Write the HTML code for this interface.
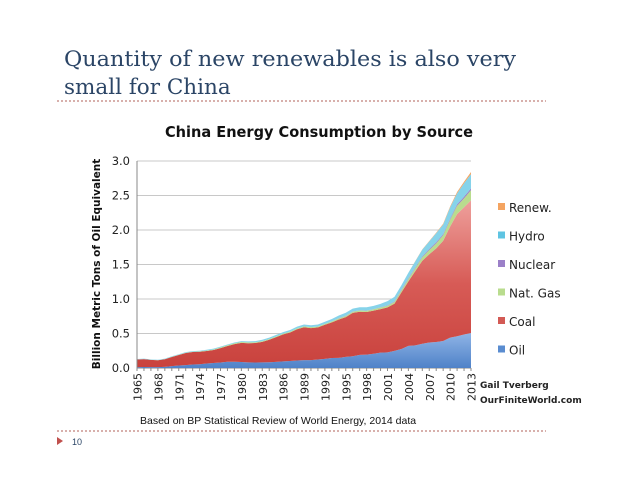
<!DOCTYPE html>
<html><head><meta charset="utf-8"><style>
body{margin:0;background:#fff;}
svg{display:block;}
</style></head><body>
<svg width="638" height="493" xmlns="http://www.w3.org/2000/svg">
<defs>
<linearGradient id="gOil" x1="0" y1="0" x2="0" y2="1"><stop offset="0" stop-color="#8fb4e6"/><stop offset="1" stop-color="#4f82c8"/></linearGradient>
<linearGradient id="gCoal" x1="0" y1="0" x2="0" y2="1"><stop offset="0" stop-color="#eea09c"/><stop offset="0.5" stop-color="#d75b56"/><stop offset="1" stop-color="#c9423d"/></linearGradient>
</defs>
<text x="64" y="66" font-family="DejaVu Serif, serif" font-size="21" fill="#2b4566" textLength="452" lengthAdjust="spacingAndGlyphs">Quantity of new renewables is also very</text>
<text x="64" y="94" font-family="DejaVu Serif, serif" font-size="21.5" fill="#2b4566">small for China</text>
<line x1="57" y1="101" x2="546" y2="101" stroke="#b0605a" stroke-width="1" stroke-dasharray="2,2"/>
<line x1="57" y1="431" x2="546" y2="431" stroke="#b0605a" stroke-width="1" stroke-dasharray="2,2"/>
<polygon points="57,437 63,441 57,445" fill="#c0504d"/>
<text x="72" y="445" font-family="Liberation Sans, sans-serif" font-size="9" fill="#2b4566">10</text>
<text x="319" y="137" text-anchor="middle" font-family="DejaVu Sans, sans-serif" font-weight="bold" font-size="15" fill="#111" textLength="308" lengthAdjust="spacingAndGlyphs">China Energy Consumption by Source</text>
<text transform="translate(100,264) rotate(-90)" text-anchor="middle" font-family="DejaVu Sans, sans-serif" font-weight="bold" font-size="10.5" fill="#111">Billion Metric Tons of Oil Equivalent</text>
<g id="grid"></g>
<g id="areas"></g>
<g id="axes"></g>
<g id="legend"></g>
<text x="480" y="388" font-family="DejaVu Sans, sans-serif" font-weight="bold" font-size="9" fill="#222">Gail Tverberg</text>
<text x="480" y="403" font-family="DejaVu Sans, sans-serif" font-weight="bold" font-size="9" fill="#222">OurFiniteWorld.com</text>
<text x="140" y="424" font-family="Liberation Sans, sans-serif" font-size="10.5" fill="#111">Based on BP Statistical Review of World Energy, 2014 data</text>
</svg>
<script>
const years = Array.from({length:49},(_,i)=>1965+i);
const oil = [0.011,0.014,0.013,0.013,0.017,0.028,0.036,0.041,0.050,0.054,0.065,0.072,0.080,0.091,0.091,0.087,0.082,0.080,0.081,0.084,0.089,0.096,0.102,0.108,0.115,0.114,0.123,0.133,0.145,0.147,0.161,0.171,0.190,0.193,0.206,0.223,0.227,0.248,0.275,0.320,0.328,0.351,0.370,0.377,0.392,0.440,0.461,0.486,0.507];
const coal = [0.113,0.114,0.105,0.100,0.110,0.132,0.153,0.176,0.181,0.181,0.181,0.188,0.208,0.227,0.255,0.277,0.277,0.282,0.298,0.325,0.358,0.391,0.412,0.454,0.475,0.464,0.465,0.493,0.516,0.556,0.577,0.628,0.625,0.619,0.626,0.631,0.651,0.685,0.821,0.935,1.077,1.204,1.278,1.356,1.453,1.610,1.770,1.843,1.925];
const gas = [0.001,0.001,0.001,0.001,0.002,0.003,0.003,0.004,0.005,0.006,0.008,0.009,0.011,0.012,0.013,0.013,0.012,0.011,0.011,0.011,0.012,0.012,0.013,0.013,0.014,0.014,0.014,0.014,0.015,0.016,0.016,0.016,0.018,0.018,0.019,0.022,0.025,0.026,0.030,0.035,0.042,0.051,0.063,0.073,0.080,0.098,0.121,0.130,0.146];
const nuclear = [0,0,0,0,0,0,0,0,0,0,0,0,0,0,0,0,0,0,0,0,0,0,0,0,0,0,0,0,0,0.003,0.003,0.003,0.003,0.003,0.003,0.004,0.004,0.006,0.010,0.011,0.012,0.012,0.014,0.016,0.016,0.017,0.020,0.022,0.025];
const hydro = [0.005,0.006,0.006,0.006,0.006,0.007,0.008,0.009,0.009,0.009,0.011,0.011,0.011,0.010,0.011,0.013,0.014,0.017,0.020,0.020,0.021,0.021,0.023,0.025,0.026,0.028,0.028,0.030,0.034,0.038,0.043,0.042,0.044,0.047,0.046,0.050,0.063,0.065,0.064,0.080,0.089,0.098,0.110,0.132,0.139,0.163,0.158,0.196,0.206];
const renew = [0,0,0,0,0,0,0,0,0,0,0,0,0,0,0,0,0,0,0,0,0,0,0,0,0,0,0,0,0,0,0,0,0,0,0,0,0,0,0,0,0.003,0.004,0.005,0.008,0.010,0.013,0.020,0.023,0.031];
const yTicks = [0,0.5,1.0,1.5,2.0,2.5,3.0];
const seriesNames = ["Oil","Coal","Nat. Gas","Nuclear","Hydro","Renew."];
const seriesData = [oil,coal,gas,nuclear,hydro,renew];
const colors = ["url(#gOil)","url(#gCoal)","#b9dc8e","#9b80c8","#86d3ea","#f4a461"];
const legendColors = ["#5a8cd0","#d35a55","#b9dc8e","#9b80c8","#5fc4e2","#f4a461"];
const NS="http://www.w3.org/2000/svg";
const X0=137,X1=471,Y0=368,Y3=161;
const x = y => X0 + (y-years[0])/(years[years.length-1]-years[0])*(X1-X0);
const yS = v => Y0 - v/3*(Y0-Y3);
function mk(tag,attrs,parent){const e=document.createElementNS(NS,tag);for(const k in attrs)e.setAttribute(k,attrs[k]);parent.appendChild(e);return e;}
const grid=document.getElementById('grid'),areas=document.getElementById('areas'),axes=document.getElementById('axes'),legend=document.getElementById('legend');
yTicks.forEach(t=>{
  const l=mk('line',{x1:X0,x2:X1,y1:yS(t),y2:yS(t),stroke:t===0?'#888':'#c8c8c8','stroke-width':1},grid);
  
  
  const tx=mk('text',{x:X0-7,y:yS(t)+4,'text-anchor':'end','font-family':'DejaVu Sans, sans-serif','font-size':'11.5',fill:'#222'},axes);
  tx.textContent=t.toFixed(1);
  
  
});
const vl=mk('line',{x1:X0,x2:X0,y1:Y3,y2:Y0,stroke:'#888'},axes);


let base=years.map(()=>0);
seriesData.forEach((s,si)=>{
  const top=base.map((b,i)=>b+s[i]);
  let d='M'+years.map((yr,i)=>x(yr)+','+yS(top[i])).join('L');
  for(let i=years.length-1;i>=0;i--) d+='L'+x(years[i])+','+yS(base[i]);
  d+='Z';
  const p=mk('path',{d:d,fill:colors[si]},areas);
  
  
  base=top;
});
years.forEach((yr,i)=>{
  const tk=mk('line',{x1:x(yr),x2:x(yr),y1:Y0,y2:Y0+3,stroke:'#888'},axes);
  
  
  if(i%3===0){
    const t=mk('text',{transform:'translate('+(x(yr)+4.5)+','+(Y0+5)+') rotate(-90)','text-anchor':'end','font-family':'DejaVu Sans, sans-serif','font-size':'11',fill:'#222'},axes);
    t.textContent=yr;
    
    
  }
});
for(let i=5;i>=0;i--){
  const row=5-i, ly=212+row*28.5;
  const r=mk('rect',{x:498,y:ly-9,width:7,height:7,fill:legendColors[i]},legend);
  
  
  const t=mk('text',{x:509,y:ly,'font-family':'DejaVu Sans, sans-serif','font-size':'12',fill:'#222'},legend);
  t.textContent=seriesNames[i];
  
  
}
</script>
</body></html>
